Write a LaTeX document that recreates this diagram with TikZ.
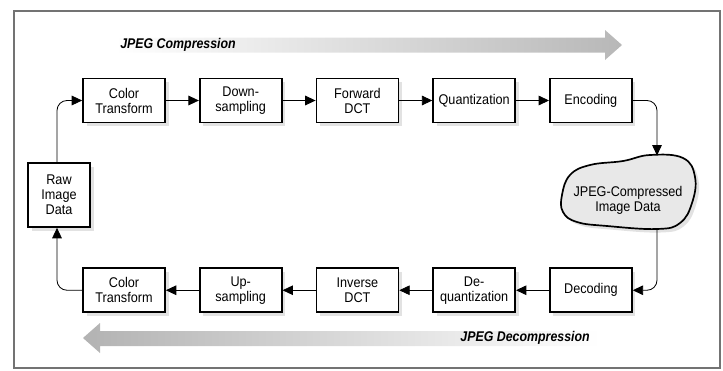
\documentclass[tikz,border=0pt]{standalone}
\usepackage{fontspec}
\setmainfont{Liberation Sans}[FakeStretch=0.9]
\newfontfamily\bannerfont{Liberation Sans}[FakeStretch=0.88]
\usetikzlibrary{positioning,shadows,arrows.meta,calc}
\tikzset{stage/.style={draw, line width=1.2pt, fill=white, minimum width=2.05cm, minimum height=1.1cm,
    inner sep=1pt, align=center, font=\fontsize{10}{10.7}\selectfont,
    drop shadow={shadow xshift=0.09cm, shadow yshift=-0.09cm, fill=black!25, opacity=0.45}},
  flow/.style={line width=0.6pt, rounded corners=2.5mm, -{Triangle[length=2.6mm,width=2.4mm]}},
  banner/.style={font=\bannerfont\fontsize{10}{11}\selectfont\bfseries\itshape, inner sep=0pt}}

\begin{document}
\begin{tikzpicture}[x=0.025cm, y=-0.025cm]
    \useasboundingbox (0,0) rectangle (723,370);
    \tikzset{node distance=3.6cm and 0.825cm}

    % frame
    \draw[black!55, line width=1pt] (14,11) rectangle (720,368);

    % big direction arrows
    \shade[left color=white, right color=black!28] (115,37.5) -- (605,37.5) -- (605,30) -- (622,45)
        -- (605,60) -- (605,52.5) -- (115,52.5) -- cycle;
    \shade[left color=black!30, right color=white] (600,331) -- (100,331) -- (100,323) -- (83,338)
        -- (100,353) -- (100,346) -- (600,346) -- cycle;
    \node[banner, anchor=west] (comp) at (120,45) {JPEG Compression};
    \node[banner, anchor=east] (decomp) at (590,338) {JPEG Decompression};

    % compression row
    \node[stage] (ct1) at (124,100.5) {Color\\Transform};
    \node[stage, right= of ct1] (ds) {Down-\\sampling};
    \node[stage, right= of ds] (fdct) {Forward\\DCT};
    \node[stage, right= of fdct] (quant) {Quantization};
    \node[stage, right= of quant] (enc) {Encoding};

    % decompression row
    \node[stage, below= of enc] (dec) {Decoding};
    \node[stage, left= of dec] (deq) {De-\\quantization};
    \node[stage, left= of deq] (idct) {Inverse\\DCT};
    \node[stage, left= of idct] (us) {Up-\\sampling};
    \node[stage, left= of us] (ct2) {Color\\Transform};

    \node[stage, minimum width=1.55cm, minimum height=1.6cm] (raw) at (59,195) {Raw\\Image\\Data};

    % compressed data blob
    \fill[black!25, opacity=0.45, shift={(3.5,3.5)}] plot[smooth cycle, tension=0.7] coordinates {
        (570,175) (590,165) (623,161) (650,155) (683,158) (695,177) (692,203)
        (680,223) (657,229) (607,226) (577,222) (563,212) (562,195)};
    \draw[line width=1.2pt, fill=black!9] plot[smooth cycle, tension=0.7] coordinates {
        (570,175) (590,165) (623,161) (650,155) (683,158) (695,177) (692,203)
        (680,223) (657,229) (607,226) (577,222) (563,212) (562,195)};
    \node[align=center, font=\fontsize{10}{10.7}\selectfont] (cloud) at (628,200) {JPEG-Compressed\\Image Data};
    \coordinate (cloudtop) at (657,155.5);
    \coordinate (cloudbot) at (657,229);

    % connectors
    \draw[flow] (ct1) -- (ds);
    \draw[flow] (ds) -- (fdct);
    \draw[flow] (fdct) -- (quant);
    \draw[flow] (quant) -- (enc);
    \draw[flow] (enc.east) -| (cloudtop);
    \draw[flow] (cloudbot) |- (dec.east);
    \draw[flow] (dec) -- (deq);
    \draw[flow] (deq) -- (idct);
    \draw[flow] (idct) -- (us);
    \draw[flow] (us) -- (ct2);
    \draw[flow] (ct2.west) -| ([xshift=-0.05cm]raw.south);
    \draw[flow] ([xshift=-0.05cm]raw.north) |- (ct1.west);
\end{tikzpicture}
\end{document}
